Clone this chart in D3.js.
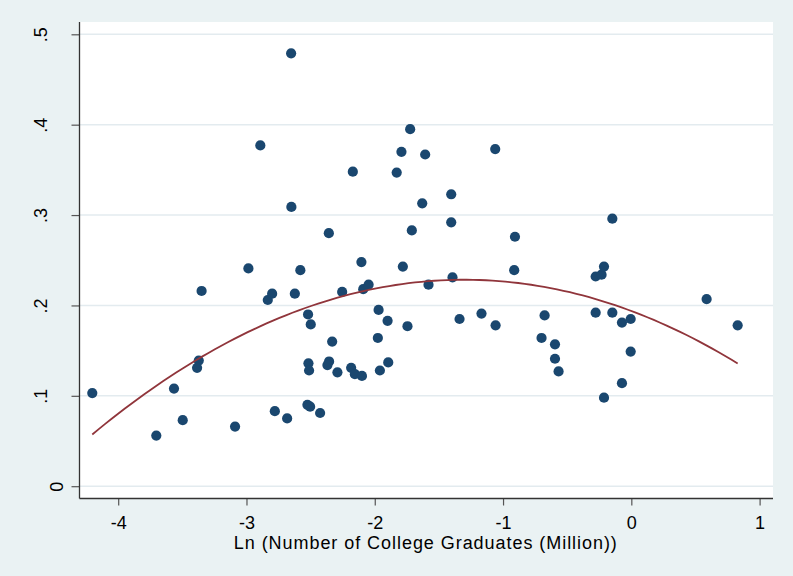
<!DOCTYPE html>
<html>
<head>
<meta charset="utf-8">
<script src="https://cdn.jsdelivr.net/npm/d3@7"></script>
<style>
  html, body { margin: 0; padding: 0; background: #eaf2f3; }
  svg { display: block; }
  text { font-family: "Liberation Sans", Arial, sans-serif; fill: #000; }
</style>
</head>
<body>
<svg id="chart" width="793" height="576"></svg>
<script>
// ---- data ----
const lnGraduates = [
  -4.202, -3.703, -3.565, -3.497, -3.372, -3.385, -3.350, -3.089, -2.985, -2.892,
  -2.834, -2.800, -2.779, -2.683, -2.652, -2.650, -2.623, -2.580, -2.520, -2.499,
  -2.517, -2.512, -2.525, -2.504, -2.426, -2.358, -2.356, -2.369, -2.332, -2.291,
  -2.254, -2.184, -2.171, -2.155, -2.104, -2.100, -2.090, -2.048, -1.970, -1.976,
  -1.960, -1.900, -1.895, -1.829, -1.792, -1.781, -1.745, -1.724, -1.711, -1.630,
  -1.607, -1.581, -1.404, -1.404, -1.394, -1.339, -1.168, -1.061, -1.058, -0.907,
  -0.913, -0.700, -0.676, -0.595, -0.595, -0.567, -0.278, -0.278, -0.232, -0.213,
  -0.213, -0.148, -0.148, -0.073, -0.073, -0.005, -0.005, 0.587, 0.829
];
const shareValues = [
  0.103, 0.056, 0.108, 0.073, 0.139, 0.131, 0.216, 0.066, 0.241, 0.377,
  0.206, 0.213, 0.083, 0.075, 0.479, 0.309, 0.213, 0.239, 0.190, 0.179,
  0.136, 0.128, 0.090, 0.088, 0.081, 0.280, 0.138, 0.134, 0.160, 0.126,
  0.215, 0.131, 0.348, 0.124, 0.248, 0.122, 0.218, 0.223, 0.195, 0.164,
  0.128, 0.183, 0.137, 0.347, 0.370, 0.243, 0.177, 0.395, 0.283, 0.313,
  0.367, 0.223, 0.323, 0.292, 0.231, 0.185, 0.191, 0.373, 0.178, 0.276,
  0.239, 0.164, 0.189, 0.157, 0.141, 0.127, 0.232, 0.192, 0.234, 0.243,
  0.098, 0.296, 0.192, 0.181, 0.114, 0.185, 0.149, 0.207, 0.178
];
const xTicks = [-4, -3, -2, -1, 0, 1];
const xTickLabels = ["-4", "-3", "-2", "-1", "0", "1"];
const yTicks = [0, 0.1, 0.2, 0.3, 0.4, 0.5];
const yTickLabels = ["0", ".1", ".2", ".3", ".4", ".5"];
const xTitle = "Ln (Number of College Graduates (Million))";

// ---- layout ----
const W = 793, H = 576;
const plot = { left: 79.5, right: 773, top: 22, bottom: 498.5 };
const svg = d3.select("#chart");

svg.append("rect").attr("x", 0).attr("y", 0).attr("width", W).attr("height", H).attr("fill", "#eaf2f3");
svg.append("rect").attr("x", plot.left).attr("y", plot.top)
  .attr("width", plot.right - plot.left).attr("height", plot.bottom - plot.top).attr("fill", "#ffffff");

const x = d3.scaleLinear().domain([-4, 1]).range([118.2, 759.6]);
const y = d3.scaleLinear().domain([0, 0.5]).range([486.2, 34.3]);

// gridlines
svg.append("g").selectAll("line").data(yTicks).join("line")
  .attr("x1", plot.left).attr("x2", plot.right)
  .attr("y1", d => y(d)).attr("y2", d => y(d))
  .attr("stroke", "#e3ebef").attr("stroke-width", 1.6);

// quadratic least-squares fit computed from the scatter data
function quadFit(xs, ys) {
  let S = [0,0,0,0,0], T = [0,0,0];
  for (let i = 0; i < xs.length; i++) {
    const xi = xs[i], yi = ys[i];
    let p = 1;
    for (let k = 0; k < 5; k++) { S[k] += p; if (k < 3) T[k] += p * yi; p *= xi; }
  }
  const A = [[S[0],S[1],S[2],T[0]],[S[1],S[2],S[3],T[1]],[S[2],S[3],S[4],T[2]]];
  for (let c = 0; c < 3; c++) {
    for (let r = c + 1; r < 3; r++) {
      const f = A[r][c] / A[c][c];
      for (let k = c; k < 4; k++) A[r][k] -= f * A[c][k];
    }
  }
  const b = [0,0,0];
  for (let r = 2; r >= 0; r--) {
    let s = A[r][3];
    for (let k = r + 1; k < 3; k++) s -= A[r][k] * b[k];
    b[r] = s / A[r][r];
  }
  return b;
}
const coef = quadFit(lnGraduates, shareValues);
const xmin = d3.min(lnGraduates), xmax = d3.max(lnGraduates);
const fitPts = d3.range(0, 101).map(i => {
  const xv = xmin + (xmax - xmin) * i / 100;
  return [xv, coef[0] + coef[1] * xv + coef[2] * xv * xv];
});

// points
svg.append("g").selectAll("circle").data(lnGraduates).join("circle")
  .attr("cx", d => x(d)).attr("cy", (d, i) => y(shareValues[i]))
  .attr("r", 5.1).attr("fill", "#1a476f");

// fit line
svg.append("path").datum(fitPts)
  .attr("d", d3.line().x(d => x(d[0])).y(d => y(d[1])))
  .attr("fill", "none").attr("stroke", "#90353b").attr("stroke-width", 1.8);

// x axis
const gx = svg.append("g").attr("transform", `translate(0,${plot.bottom})`)
  .call(d3.axisBottom(x).tickValues(xTicks).tickSize(7).tickSizeOuter(0)
    .tickFormat((d, i) => xTickLabels[i]));
gx.select(".domain").remove();
gx.selectAll(".tick line").attr("stroke", "#555").attr("stroke-width", 1.2);
gx.selectAll(".tick text").attr("font-size", 18).attr("y", 0).attr("dy", null)
  .attr("transform", "translate(0,30.8)").attr("fill", "#000");

// y axis
const gy = svg.append("g").attr("transform", `translate(${plot.left},0)`)
  .call(d3.axisLeft(y).tickValues(yTicks).tickSize(8).tickSizeOuter(0)
    .tickFormat((d, i) => yTickLabels[i]));
gy.select(".domain").remove();
gy.selectAll(".tick line").attr("stroke", "#555").attr("stroke-width", 1.2);
gy.selectAll(".tick text").attr("font-size", 18).attr("x", 0).attr("dy", null)
  .attr("text-anchor", "middle")
  .attr("transform", d => `translate(${d === 0 ? -16.8 : -32.8},0) rotate(-90)`)
  .attr("fill", "#000");

// axis lines
svg.append("line").attr("x1", plot.left).attr("x2", plot.left)
  .attr("y1", plot.top).attr("y2", plot.bottom)
  .attr("stroke", "#333").attr("stroke-width", 1.3);
svg.append("line").attr("x1", plot.left).attr("x2", plot.right)
  .attr("y1", plot.bottom).attr("y2", plot.bottom)
  .attr("stroke", "#333").attr("stroke-width", 1.3);

// x title
svg.append("text").attr("x", 425.8).attr("y", 548.6)
  .attr("text-anchor", "middle").attr("font-size", 18).attr("letter-spacing", 0.95)
  .text(xTitle);
</script>
</body>
</html>
